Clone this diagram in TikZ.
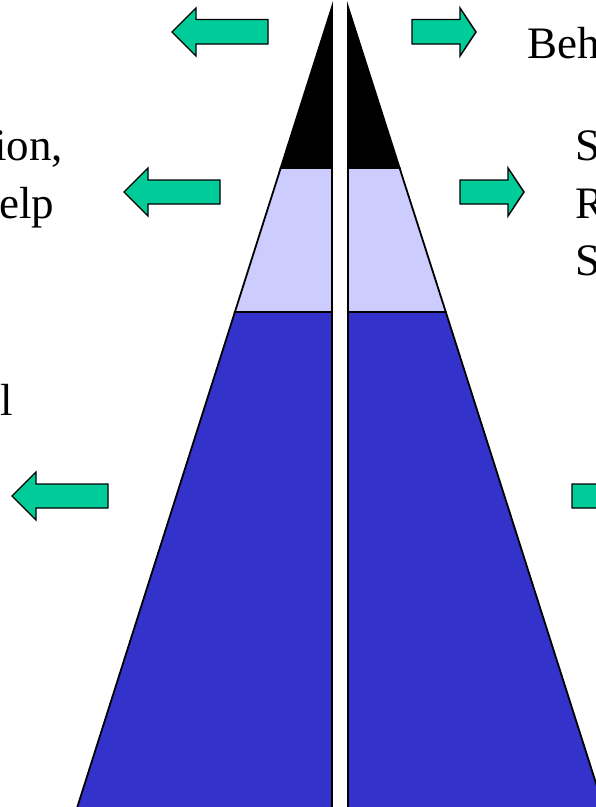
\documentclass[tikz,border=0pt]{standalone}
\usepackage{fontspec}
\setmainfont{Liberation Serif}
\definecolor{arrowgreen}{RGB}{0,204,153}
\definecolor{lavender}{RGB}{204,204,255}
\definecolor{pyrblue}{RGB}{51,51,204}
\begin{document}
\begin{tikzpicture}[x=1pt,y=-1pt,
  band/.style={draw=black,line width=1.8pt,line join=miter},
  greenarrow/.style={fill=arrowgreen,draw=black,line width=1.4pt,line join=miter},
  label/.style={inner sep=0pt,anchor=base west,font=\fontsize{45}{54}\selectfont}]
\useasboundingbox (0,0) rectangle (596,807);
\clip (0,0) rectangle (596,807);
\fill[white] (0,0) rectangle (596,807);
% left half of pyramid
\draw[band,fill=pyrblue] (234.9,312) -- (332,312) -- (332,830) -- (70,830) -- cycle;
\draw[band,fill=lavender] (280.7,168) -- (332,168) -- (332,312) -- (234.9,312) -- cycle;
\draw[band,fill=black] (332,7) -- (332,168) -- (280.7,168) -- cycle;
% right half of pyramid
\draw[band,fill=pyrblue] (348,312) -- (445.8,312) -- (610.9,830) -- (348,830) -- cycle;
\draw[band,fill=lavender] (348,168) -- (399.6,168) -- (445.8,312) -- (348,312) -- cycle;
\draw[band,fill=black] (348,7) -- (399.6,168) -- (348,168) -- cycle;
% arrows
\draw[greenarrow] (172,32) -- (196,8) -- (196,19.5) -- (268,19.5) -- (268,44) -- (196,44) -- (196,56) -- cycle;
\draw[greenarrow] (476,32) -- (460,8) -- (460,19.5) -- (412,19.5) -- (412,44) -- (460,44) -- (460,56) -- cycle;
\draw[greenarrow] (124,192) -- (148,168) -- (148,180) -- (220,180) -- (220,204) -- (148,204) -- (148,216) -- cycle;
\draw[greenarrow] (524,192) -- (508,168) -- (508,180) -- (460,180) -- (460,204) -- (508,204) -- (508,216) -- cycle;
\draw[greenarrow] (12,496) -- (36,472) -- (36,484) -- (108,484) -- (108,508) -- (36,508) -- (36,520) -- cycle;
\draw[greenarrow] (644,496) -- (620,472) -- (620,484) -- (572,484) -- (572,508) -- (620,508) -- (620,520) -- cycle;
% texts
\node[label] (tbeh) at (527,58) {Beh};
\node[label] (ts1) at (575,160) {S};
\node[label] (tr) at (575,218) {R};
\node[label] (ts2) at (575,275) {S};
\node[label] (tion) at (-6,160) {ion,};
\node[label] (telp) at (-1,218) {elp};
\node[label] (tl) at (0,415) {l};
\end{tikzpicture}
\end{document}
